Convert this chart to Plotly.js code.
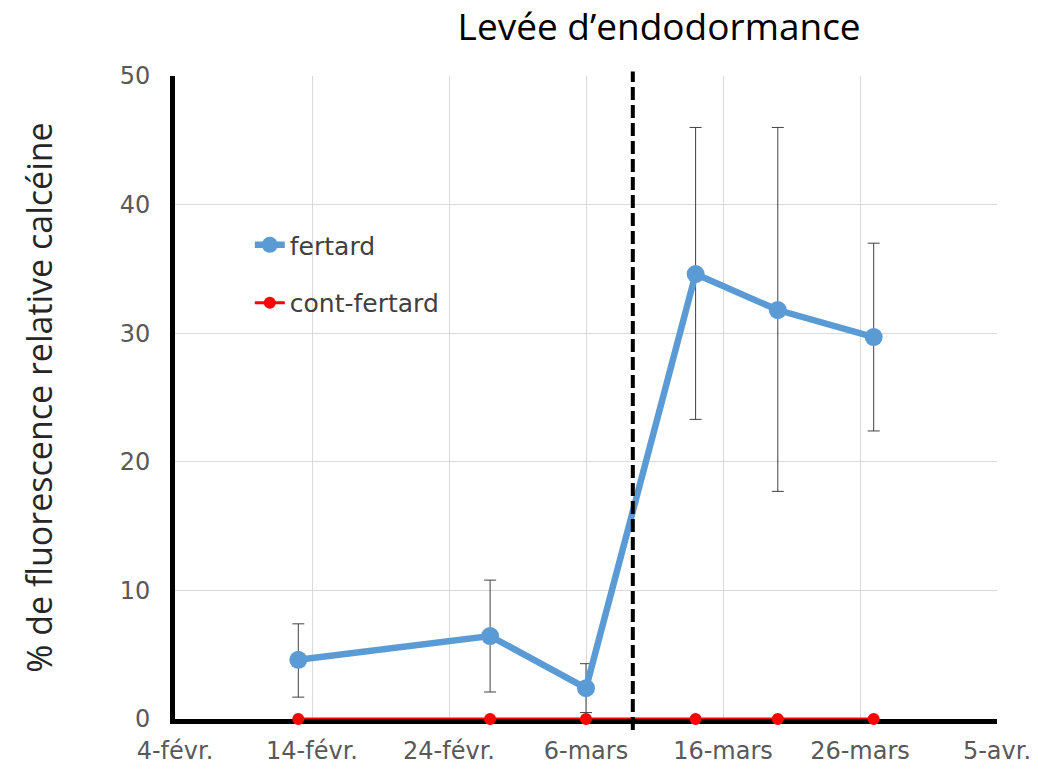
<!DOCTYPE html>
<html><head><meta charset="utf-8">
<script src="https://cdn.plot.ly/plotly-3.0.1.min.js"></script>
<style>body{margin:0;background:#fff}#c{width:1038px;height:769px}</style>
</head><body><div id="c"></div>
<script>
const dates = ["2019-02-13","2019-02-27","2019-03-06","2019-03-14","2019-03-20","2019-03-27"];
const fertard = [4.6, 6.45, 2.4, 34.6, 31.8, 29.7];
const errPlus = [2.8, 4.35, 1.9, 11.4, 14.2, 7.3];
const errMinus = [2.9, 4.35, 1.9, 11.3, 14.1, 7.3];
const contFertard = [0, 0, 0, 0, 0, 0];
const tickVals = ["2019-02-04","2019-02-14","2019-02-24","2019-03-06","2019-03-16","2019-03-26","2019-04-05"];
const tickText = ["4-févr.","14-févr.","24-févr.","6-mars","16-mars","26-mars","5-avr."];
const endodormanceDate = "2019-03-09 10:00";

const tickFont = {family: "DejaVu Sans", size: 24, color: "#595959"};
const legFont = {family: "DejaVu Sans", size: 25, color: "#404040"};

const traces = [
  {x: dates, y: contFertard, name: "cont-fertard", mode: "lines+markers", type: "scatter",
   line: {color: "#FF0000", width: 3}, marker: {color: "#FF0000", size: 12}, cliponaxis: false, legend: "legend2"},
  {x: dates, y: fertard, name: "fertard", mode: "lines+markers", type: "scatter",
   line: {color: "#5B9BD5", width: 6.5}, marker: {color: "#5B9BD5", size: 18}, cliponaxis: false,
   error_y: {type: "data", symmetric: false, array: errPlus, arrayminus: errMinus, color: "#404040", thickness: 1, width: 6},
   legend: "legend"}
];

const layout = {
  width: 1038, height: 769,
  margin: {l: 175, r: 41, t: 76, b: 50},
  paper_bgcolor: "#fff", plot_bgcolor: "#fff",
  title: {text: "Levée d’endodormance", font: {family: "Open Sans", size: 37, color: "#000"},
          x: 0.635, xanchor: "center", xref: "container", y: 0.965, yanchor: "middle"},
  xaxis: {type: "date", range: ["2019-02-04", "2019-04-05"], tickvals: tickVals, ticktext: tickText,
          showgrid: true, gridcolor: "#D9D9D9", gridwidth: 1, showline: true, linecolor: "#000", linewidth: 5,
          zeroline: false, ticks: "", ticklabelstandoff: 6, layer: "below traces", tickfont: tickFont},
  yaxis: {range: [0, 50], tickvals: [0,10,20,30,40,50], showgrid: true, gridcolor: "#D9D9D9", gridwidth: 1,
          showline: true, linecolor: "#000", linewidth: 5, zeroline: false, ticks: "", ticklabelstandoff: 15,
          layer: "below traces", tickfont: tickFont,
          title: {text: "% de fluorescence relative calcéine", standoff: 58,
                  font: {family: "Open Sans", size: 34, color: "#262626"}}},
  legend: {x: 0.091, y: 0.737, xanchor: "left", yanchor: "middle", bgcolor: "rgba(0,0,0,0)", font: legFont},
  legend2: {x: 0.091, y: 0.647, xanchor: "left", yanchor: "middle", bgcolor: "rgba(0,0,0,0)", font: legFont},
  showlegend: true,
  shapes: [{type: "line", xref: "x", yref: "paper", x0: endodormanceDate, x1: endodormanceDate, y0: -0.017, y1: 1.007,
            line: {color: "#000", width: 4, dash: "13px,5px"}, layer: "above"}]
};
Plotly.newPlot("c", traces, layout, {displayModeBar: false});
</script></body></html>
